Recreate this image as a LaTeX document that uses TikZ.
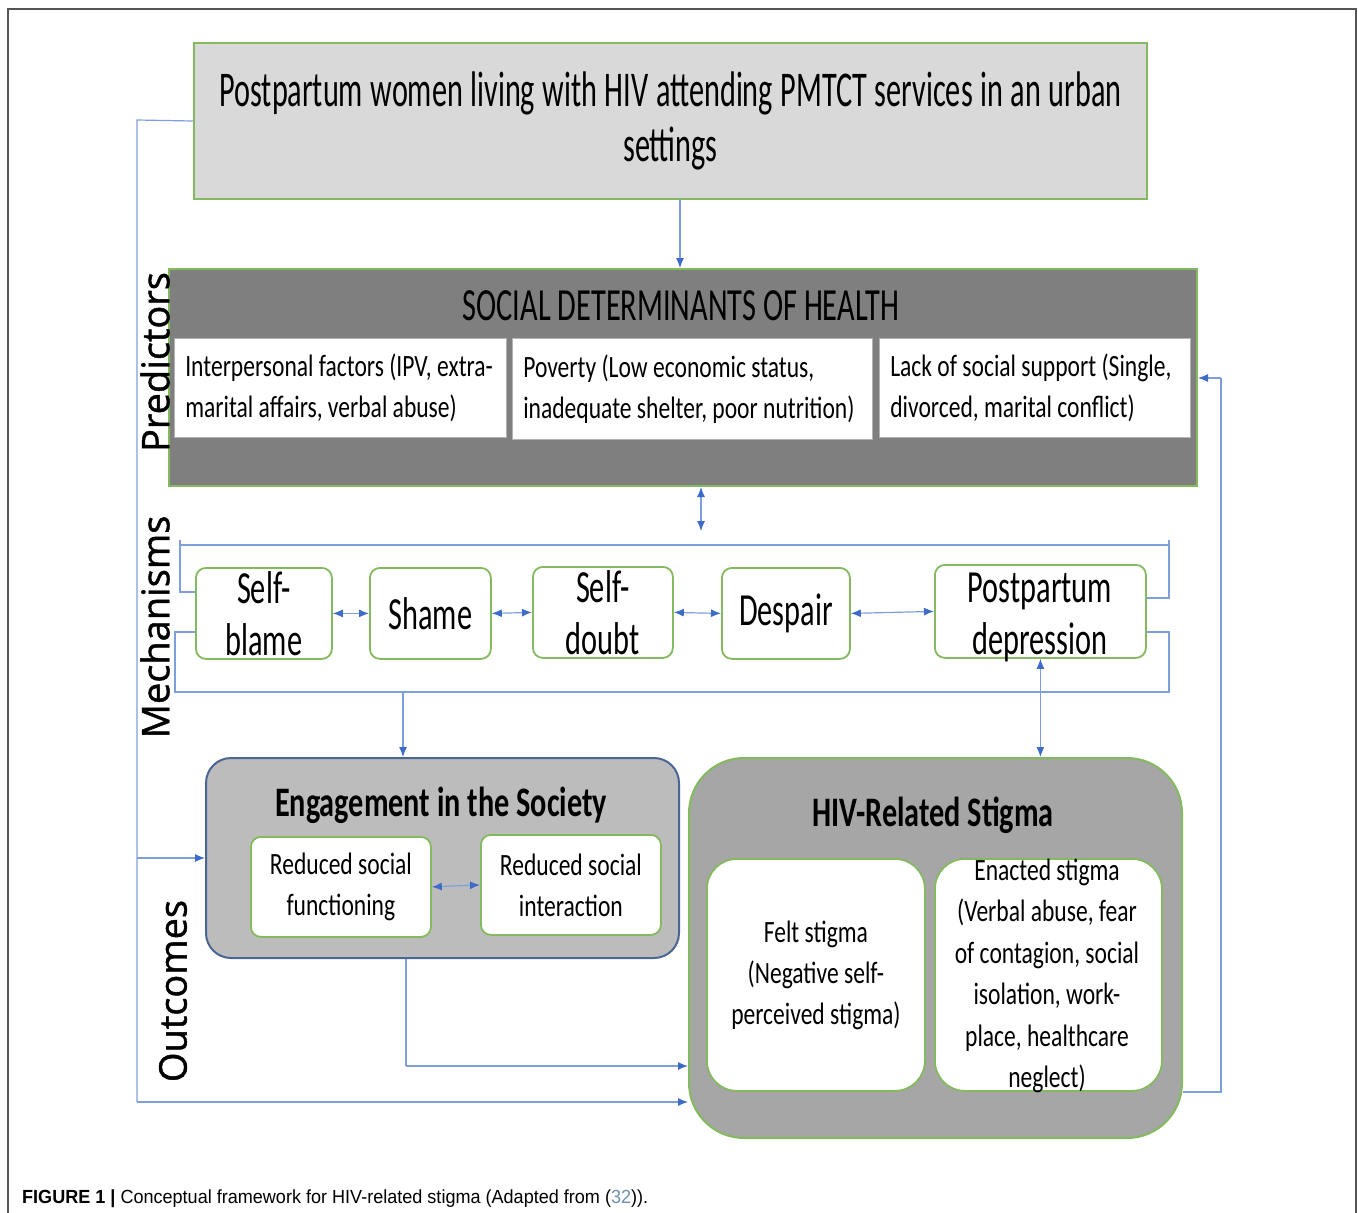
\documentclass[tikz,border=0pt]{standalone}
\usepackage{fontspec}
\setmainfont{Carlito}
\newfontfamily\condA[FakeStretch=0.605]{Carlito}
\newfontfamily\cond[FakeStretch=0.66]{Carlito}
\newfontfamily\condB[FakeStretch=0.72]{Carlito}
\newfontfamily\condS[FakeStretch=0.76]{Carlito}
\newfontfamily\side[FakeBold=1.2]{Open Sans}
\newfontfamily\capf[FakeStretch=0.95]{Liberation Sans}
\newcommand\nsp{\spaceskip=0pt\xspaceskip=0pt\relax}
\usetikzlibrary{arrows.meta}
\definecolor{grn}{HTML}{84BA5E}
\definecolor{lnc}{HTML}{7E9FDE}
\definecolor{tipc}{HTML}{3C6CC8}
\definecolor{topfill}{HTML}{D9D9D9}
\definecolor{sdohfill}{HTML}{7F7F7F}
\definecolor{engfill}{HTML}{BCBCBC}
\definecolor{engline}{HTML}{4B6595}
\definecolor{hivfill}{HTML}{A6A6A6}
\definecolor{framec}{HTML}{555555}
\definecolor{capblue}{HTML}{6F8FAF}
\tikzset{
  ln/.style={draw=lnc, line width=1.2pt},
  arr/.style={ln, -{Latex[length=10pt,width=8pt,color=tipc]}},
  darr/.style={ln, {Latex[length=10pt,width=8pt,color=tipc]}-{Latex[length=10pt,width=8pt,color=tipc]}},
  nw/.style={anchor=north west, inner sep=0pt},
  mechbox/.style={nw, draw=grn, line width=1.8pt, fill=white, rounded corners=10pt, align=center, font=\cond\fontsize{46}{52}\selectfont},
  subbox/.style={nw, draw=gray!60, line width=0.6pt, fill=white, align=left, inner xsep=11pt, font=\condS\fontsize{31}{41}\selectfont},
  inbox/.style={nw, draw=grn, line width=1.8pt, fill=white, align=center, font=\condS\fontsize{31}{41}\selectfont},
  sidelab/.style={rotate=90, font=\side\fontsize{38}{40}\selectfont},
  ttl/.style={font=\condB\bfseries\fontsize{42}{46}\selectfont}
}
\begin{document}
\begin{tikzpicture}[x=1pt,y=-1pt]
\useasboundingbox (0,0) rectangle (1358,1213);
\draw[framec, line width=2pt] (8,1213) -- (8,9) -- (1356,9) -- (1356,1213);

% top box
\node[nw, draw=grn, line width=2pt, fill=topfill, minimum width=953pt, minimum height=156pt, text width=945pt, align=center,
      font=\condA\fontsize{50}{55}\selectfont] (top) at (193,42)
  {\nsp Postpartum women living with HIV attending PMTCT services in an urban\\settings};

% social determinants
\node[nw, draw=grn, line width=2pt, fill=sdohfill, minimum width=1028pt, minimum height=217pt] (sdoh) at (168,268) {};
\node[font=\cond\fontsize{46}{50}\selectfont] (sdohT) at (681,306) {SOCIAL DETERMINANTS OF HEALTH};
\node[subbox, minimum width=332pt, minimum height=99pt, text width=310pt] (p1) at (174,338)
  {\nsp Interpersonal factors (IPV, extra-\\marital affairs, verbal abuse)};
\node[subbox, minimum width=360pt, minimum height=101pt, text width=338pt] (p2) at (512,338)
  {\nsp Poverty (Low economic status,\\inadequate shelter, poor nutrition)};
\node[subbox, minimum width=311pt, minimum height=99pt, text width=289pt] (p3) at (879,338)
  {\nsp Lack of social support (Single,\\divorced, marital conflict)};

% side labels
\node[sidelab] (pred) at (155,362) {Predictors};
\node[sidelab] (mech) at (155,627) {Mechanisms};
\node[sidelab] (outc) at (173,991) {Outcomes};

% mechanisms
\node[mechbox, minimum width=136pt, minimum height=91pt] (sb) at (195,567) {Self-\\blame};
\node[mechbox, minimum width=121pt, minimum height=91pt] (sh) at (369,567) {Shame};
\node[mechbox, minimum width=140pt, minimum height=91pt] (sd) at (532,566) {Self-\\doubt};
\node[mechbox, minimum width=128pt, minimum height=91pt] (ds) at (721,567) {Despair};
\node[mechbox, minimum width=211pt, minimum height=93pt] (ppd) at (934,564) {};
\node[align=center, font=\cond\fontsize{46}{52}\selectfont] (ppdT) at (1040,617) {Postpartum\\depression};

\draw[darr] (sb.east) -- (sh.west);
\draw[darr] (sh.east) -- (sd.west);
\draw[darr] (sd.east) -- (ds.west);
\draw[darr] (ds.east) -- (ppd.west);

% brackets
\draw[ln] (sb.west |- 0,592) -- (180,592) -- (180,540);
\draw[ln] (180,545) -- (1169,545);
\draw[ln] (1169,540) -- (1169,598) -- (ppd.east |- 0,598);
\draw[ln] (sb.west |- 0,632) -- (175,632) -- (175,692) -- (1169,692) -- (1169,632) -- (ppd.east |- 0,632);

% engagement
\node[nw, draw=engline, line width=2pt, fill=engfill, rounded corners=25pt, minimum width=473pt, minimum height=200pt] (eng) at (205,757) {};
\node[ttl] (engT) at (441,805) {Engagement in the Society};
\node[inbox, rounded corners=10pt, minimum width=180pt, minimum height=100pt] (rf) at (250,836) {Reduced social\\functioning};
\node[inbox, rounded corners=10pt, minimum width=180pt, minimum height=100pt] (ri) at (480,834) {Reduced social\\interaction};
\draw[darr] (rf.east) -- (ri.west);

% HIV stigma
\node[nw, draw=grn, line width=2pt, fill=hivfill, rounded corners=55pt, minimum width=493pt, minimum height=380pt] (hiv) at (688,757) {};
\node[ttl] (hivT) at (933,815) {HIV-Related Stigma};
\node[inbox, rounded corners=30pt, minimum width=218pt, minimum height=232pt] (felt) at (706,858)
  {Felt stigma\\(Negative self-\\perceived stigma)};
\node[nw, draw=grn, line width=1.8pt, fill=white, rounded corners=30pt, minimum width=227pt, minimum height=232pt] (enb) at (934,858) {};
\node[align=center, font=\condS\fontsize{31}{41.5}\selectfont] (ent) at (1047,976)
  {Enacted stigma\\(Verbal abuse, fear\\of contagion, social\\isolation, work-\\place, healthcare\\neglect)};

% connectors
\draw[arr] ([xshift=9.5pt]top.south) -- ([xshift=9.5pt]top.south |- sdoh.north);
\draw[darr] (sdoh.south -| 701,0) -- (701,531);
\draw[arr] (403,692) -- (eng.north -| 403,0);
\draw[darr] (ppd.south) -- (ppd.south |- hiv.north);
\draw[ln] (top.west) -- (137,120) -- (137,1102);
\draw[arr] (137,1102) -- (hiv.west |- 0,1102);
\draw[arr] (137,858) -- (eng.west |- 0,858);
\draw[ln] (eng.south -| 406,0) -- (406,1066);
\draw[arr] (406,1066) -- (hiv.west |- 0,1066);
\draw[ln] (hiv.east |- 0,1092) -- (1221,1092) -- (1221,378);
\draw[arr] (1221,378) -- (sdoh.east |- 0,378);

% caption
\node[anchor=base west, inner sep=0pt, font=\capf\fontsize{19}{22}\selectfont] (cap) at (22,1203)
  {\textbf{FIGURE 1 |} Conceptual framework for HIV-related stigma (Adapted from ({\color{capblue}32})).};
\end{tikzpicture}
\end{document}
